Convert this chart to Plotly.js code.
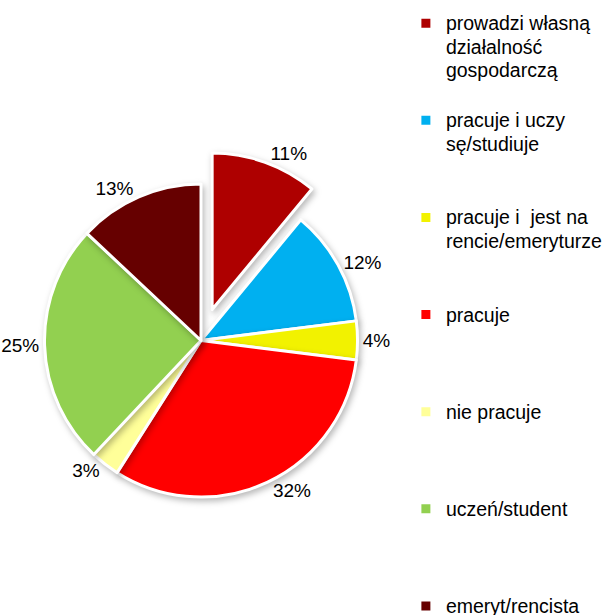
<!DOCTYPE html>
<html>
<head>
<meta charset="utf-8">
<script src="https://cdn.plot.ly/plotly-3.0.1.min.js"></script>
<style>
  html, body { margin: 0; padding: 0; background: #fff; }
  #chart { width: 604px; height: 615px; }
  .pielayer .slice path.surface { filter: drop-shadow(2px 3px 3px rgba(0,0,0,0.28)); }
</style>
</head>
<body>
<div id="chart"></div>
<script>
// ---- data ----
const categories = [
  "prowadzi własną działalność gospodarczą",
  "pracuje i uczy sę/studiuje",
  "pracuje i  jest na rencie/emeryturze",
  "pracuje",
  "nie pracuje",
  "uczeń/student",
  "emeryt/rencista"
];
const shares = [11, 12, 4, 32, 3, 25, 13];
const sliceColors = ["#AE0000", "#00B0F0", "#F2F200", "#FF0000", "#FFFF99", "#92D050", "#660000"];

// ---- legend text: wrap to lines and pad each entry to equal height ----
function wrap(text, maxChars) {
  const words = text.split(" ");
  const lines = [];
  let cur = "";
  words.forEach(w => {
    const cand = cur === "" ? w : cur + " " + w;
    if (cand.length > maxChars && cur.trim() !== "") { lines.push(cur); cur = w; }
    else cur = cand;
  });
  if (cur !== "") lines.push(cur);
  return lines;
}
const LINES_PER_ENTRY = 4;
const legendLabels = categories.map((c, i) => {
  const lines = wrap(c, 18);
  if (i < categories.length - 1) {
    while (lines.length < LINES_PER_ENTRY) lines.push("\u00a0");
  }
  return lines.map(l => '<span style="font-size:19.5px">' + l + '</span>').join("<br>");
});

const FONT = "'Liberation Sans', Arial, sans-serif";

const trace = {
  type: "pie",
  labels: legendLabels,
  values: shares,
  sort: false,
  direction: "clockwise",
  rotation: 0,
  pull: shares.map((v, i) => i === 0 ? 0.21 : 0),
  marker: { colors: sliceColors, line: { color: "#FFFFFF", width: 3 } },
  textinfo: "percent",
  textposition: "outside",
  outsidetextfont: { family: FONT, size: 19, color: "#000000" },
  hoverinfo: "label+percent",
  domain: { x: [0.0192, 0.6464], y: [0.1384, 0.7543] }
};

const layout = {
  width: 604,
  height: 615,
  margin: { l: 0, r: 0, t: 0, b: 0, autoexpand: false },
  paper_bgcolor: "#FFFFFF",
  font: { family: FONT, color: "#000000" },
  showlegend: true,
  legend: {
    x: 0.672, xanchor: "left",
    y: 0.992, yanchor: "top",
    valign: "top",
    font: { family: FONT, size: 18.1, color: "#000000" },
    bgcolor: "rgba(0,0,0,0)",
    borderwidth: 0,
    itemclick: false,
    itemdoubleclick: false,
    maxheight: 2000
  }
};

Plotly.newPlot("chart", [trace], layout, { displayModeBar: false, staticPlot: true });
</script>
</body>
</html>
